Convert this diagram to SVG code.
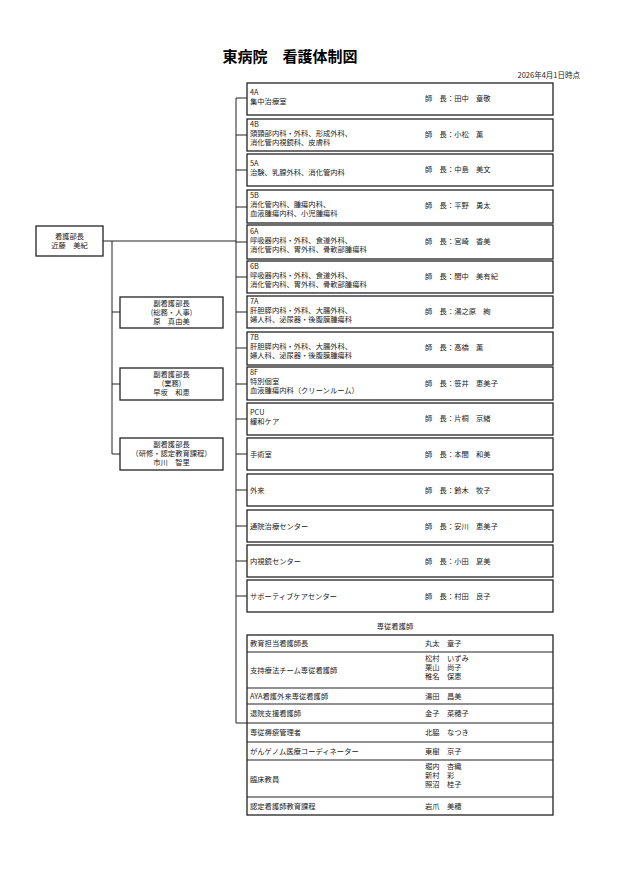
<svg xmlns="http://www.w3.org/2000/svg" width="618" height="875" viewBox="0 0 618 875">
<style>
text{font-family:"Noto Sans CJK JP","Liberation Sans",sans-serif;font-size:7.3px;fill:#222}
.b{fill:#fff;stroke:#222;stroke-width:1.3}
.l{stroke:#222;stroke-width:1;fill:none}
.c{text-anchor:middle}
</style>
<rect width="618" height="875" fill="#fff"/>
<text x="290" y="62" class="c" style="font-size:15px;font-weight:bold;fill:#000">東病院　看護体制図</text>
<text x="580" y="78" style="text-anchor:end;font-size:7.5px">2026年4月1日時点</text>
<g id="connectors">
<path class="l" d="M236 98V723H247M103 241H236M112 241V454M112 312H120M112 384H120M112 454H120"/>
<path class="l" d="M236 98H247M236 135H247M236 170H247M236 207H247M236 242H247M236 277H247M236 312H247M236 348H247M236 384H247M236 419H247M236 454H247M236 490H247M236 526H247M236 561H247M236 596H247"/>
</g>
<g id="chief"><rect class="b" x="36" y="226" width="67" height="30"/><text x="69.5" y="239" class="c">看護部長</text><text x="69.5" y="248" class="c">近藤　美紀</text></g>
<g id="dep1"><rect class="b" x="120" y="297" width="103" height="31"/><text x="171.5" y="306" class="c">副看護部長</text><text x="171.5" y="315" class="c">(総務・人事)</text><text x="171.5" y="324" class="c">原　真由美</text></g>
<g id="dep2"><rect class="b" x="120" y="368" width="103" height="32"/><text x="171.5" y="377" class="c">副看護部長</text><text x="171.5" y="386" class="c">(業務)</text><text x="171.5" y="395" class="c">早坂　和恵</text></g>
<g id="dep3"><rect class="b" x="120" y="438" width="103" height="32"/><text x="171.5" y="447" class="c">副看護部長</text><text x="171.5" y="456" class="c">（研修・認定教育課程）</text><text x="171.5" y="465" class="c">市川　智里</text></g>
<g id="w4A"><rect class="b" x="247" y="83" width="306" height="32"/><text x="250" y="95">4A</text><text x="250" y="104">集中治療室</text><text x="425" y="101">師　長：田中　章敬</text></g>
<g id="w4B"><rect class="b" x="247" y="119" width="306" height="32"/><text x="250" y="127">4B</text><text x="250" y="136">頭頸部内科・外科、形成外科、</text><text x="250" y="145">消化管内視鏡科、皮膚科</text><text x="425" y="137">師　長：小松　薫</text></g>
<g id="w5A"><rect class="b" x="247" y="154" width="306" height="32"/><text x="250" y="166">5A</text><text x="250" y="175">治験、乳腺外科、消化管内科</text><text x="425" y="172">師　長：中島　美文</text></g>
<g id="w5B"><rect class="b" x="247" y="190" width="306" height="33"/><text x="250" y="198">5B</text><text x="250" y="207">消化管内科、腫瘍内科、</text><text x="250" y="216">血液腫瘍内科、小児腫瘍科</text><text x="425" y="208">師　長：平野　勇太</text></g>
<g id="w6A"><rect class="b" x="247" y="225" width="306" height="34"/><text x="250" y="234">6A</text><text x="250" y="243">呼吸器内科・外科、食道外科、</text><text x="250" y="252">消化管内科、胃外科、骨軟部腫瘍科</text><text x="425" y="244">師　長：宮崎　香美</text></g>
<g id="w6B"><rect class="b" x="247" y="261" width="306" height="32"/><text x="250" y="269">6B</text><text x="250" y="278">呼吸器内科・外科、食道外科、</text><text x="250" y="287">消化管内科、胃外科、骨軟部腫瘍科</text><text x="425" y="279">師　長：間中　美有紀</text></g>
<g id="w7A"><rect class="b" x="247" y="296" width="306" height="32"/><text x="250" y="304">7A</text><text x="250" y="313">肝胆膵内科・外科、大腸外科、</text><text x="250" y="322">婦人科、泌尿器・後腹膜腫瘍科</text><text x="425" y="314">師　長：湯之原　絢</text></g>
<g id="w7B"><rect class="b" x="247" y="332" width="306" height="33"/><text x="250" y="340">7B</text><text x="250" y="349">肝胆膵内科・外科、大腸外科、</text><text x="250" y="358">婦人科、泌尿器・後腹膜腫瘍科</text><text x="425" y="350">師　長：高橋　薫</text></g>
<g id="w8F"><rect class="b" x="247" y="367" width="306" height="33"/><text x="250" y="375">8F</text><text x="250" y="384">特別個室</text><text x="250" y="393">血液腫瘍内科（クリーンルーム）</text><text x="425" y="386">師　長：笹井　恵美子</text></g>
<g id="wPCU"><rect class="b" x="247" y="403" width="306" height="32"/><text x="250" y="415">PCU</text><text x="250" y="424">緩和ケア</text><text x="425" y="421">師　長：片桐　京緒</text></g>
<g id="wOR"><rect class="b" x="247" y="438" width="306" height="32"/><text x="250" y="457">手術室</text><text x="425" y="457">師　長：本間　和美</text></g>
<g id="wOut"><rect class="b" x="247" y="474" width="306" height="32"/><text x="250" y="493">外来</text><text x="425" y="493">師　長：鈴木　牧子</text></g>
<g id="wDial"><rect class="b" x="247" y="510" width="306" height="32"/><text x="250" y="529">通院治療センター</text><text x="425" y="529">師　長：安川　恵美子</text></g>
<g id="wEndo"><rect class="b" x="247" y="545" width="306" height="32"/><text x="250" y="564">内視鏡センター</text><text x="425" y="564">師　長：小田　夏美</text></g>
<g id="wSup"><rect class="b" x="247" y="580" width="306" height="32"/><text x="250" y="599">サポーティブケアセンター</text><text x="425" y="599">師　長：村田　良子</text></g>
<g id="specialists">
<text x="395" y="629" class="c">専従看護師</text>
<rect class="b" x="247" y="635" width="306" height="180"/>
<path class="l" d="M247 652H553M247 688H553M247 704H553M247 723H553M247 742H553M247 760H553M247 797H553"/>
<text x="250" y="646">教育担当看護師長</text><text x="425" y="646">丸太　章子</text>
<text x="250" y="673">支持療法チーム専従看護師</text><text x="425" y="661">松村　いずみ</text><text x="425" y="670">栗山　尚子</text><text x="425" y="679">稚名　保恵</text>
<text x="250" y="699">AYA看護外来専従看護師</text><text x="425" y="699">湯田　昌美</text>
<text x="250" y="716">退院支援看護師</text><text x="425" y="716">金子　菜穂子</text>
<text x="250" y="735">専従褥瘡管理者</text><text x="425" y="735">北脇　なつき</text>
<text x="250" y="754">がんゲノム医療コーディネーター</text><text x="425" y="754">東樹　京子</text>
<text x="250" y="782">臨床教員</text><text x="425" y="769">堀内　杏織</text><text x="425" y="778">新村　彩</text><text x="425" y="787">照沼　桂子</text>
<text x="250" y="809">認定看護師教育課程</text><text x="425" y="809">岩爪　美穂</text>
</g>
</svg>
